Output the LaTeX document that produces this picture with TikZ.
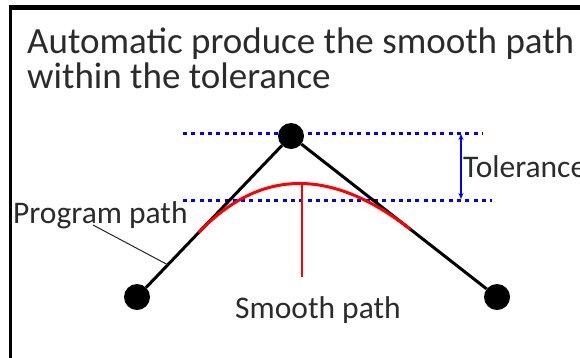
\documentclass[tikz,border=0pt]{standalone}
\usepackage{fontspec}
\setmainfont{Carlito}
\usetikzlibrary{calc,arrows.meta}
\definecolor{txt}{HTML}{2B2B2B}
\definecolor{tolblue}{HTML}{0000FF}
\definecolor{smred}{HTML}{FF0000}
\tikzset{
  dot/.style={circle,fill=black,draw=none,minimum size=26pt,inner sep=0pt},
  prog/.style={draw=black,line width=3pt},
  tolline/.style={draw=tolblue,line width=3pt,dash pattern=on 4pt off 4.3pt},
  tolarrow/.style={draw=tolblue,line width=1.3pt,{Stealth[length=6pt,width=5pt]}-{Stealth[length=6pt,width=5pt]}},
  smooth/.style={draw=smred,line width=3pt},
  pin/.style={draw=smred,line width=1.3pt},
  leader/.style={draw=black!85,line width=1pt},
  title/.style={font=\fontsize{37}{37}\selectfont,text=txt,anchor=base west,inner sep=0pt},
  lbl/.style={font=\fontsize{31.5}{31.5}\selectfont,text=txt,anchor=base west,inner sep=0pt},
}
\begin{document}
\begin{tikzpicture}[x=1pt,y=-1pt]
\useasboundingbox (0,0) rectangle (580,357);
\fill[white] (0,0) rectangle (580,357);
% frame
\fill[black] (9,5) rectangle (585,9.5);
\fill[black] (9,5) rectangle (12,362);
% title
\node[title] (t1) at (27,53) {Automatic produce the smooth path};
\node[title] (t2) at (27,88) {within the tolerance};
% tolerance lines
\coordinate (tl) at (183,133);
\coordinate (tr) at (483,133);
\coordinate (bl) at (183,200);
\coordinate (br) at (492,200);
\draw[tolline] (tl) -- (tr);
\draw[tolline] (bl) -- (br);
\coordinate (ab) at (461,199);
\coordinate (at) at (461,134);
\draw[tolarrow] (ab) -- (at);
\node[lbl] (tol) at (463,177) {Tolerance};
% program path
\node[dot] (top) at (291,136) {};
\node[dot] (left) at (137,297) {};
\node[dot] (right) at (497,297) {};
\draw[prog] (left) -- (top) -- (right);
% smooth path
\coordinate (p0) at ($(top.center)!0.6!(left.center)$);
\coordinate (p2) at ($(top.center)!0.58!(right.center)$);
\coordinate (c1) at ($(p0)!0.6667!(top.center)$);
\coordinate (c2) at ($(p2)!0.6667!(top.center)$);
\draw[smooth] (p0) .. controls (c1) and (c2) .. (p2);
\coordinate (peak) at (302,184);
\coordinate (pinend) at (302,277);
\draw[pin] (peak) -- (pinend);
\node[lbl] (sm) at (235,318) {Smooth path};
% program path label
\node[lbl] (pp) at (13,223) {Program path};
\coordinate (lead0) at (93,225);
\coordinate (lead1) at ($(top.center)!0.8!(left.center)$);
\draw[leader] (lead0) -- (lead1);
\end{tikzpicture}
\end{document}
